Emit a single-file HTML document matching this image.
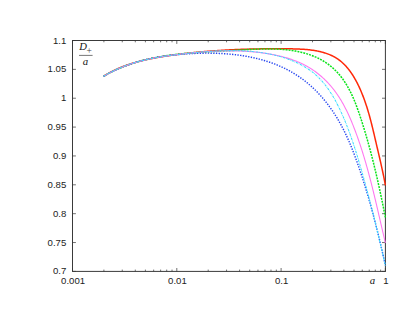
<!DOCTYPE html>
<html><head><meta charset="utf-8"><title>chart</title>
<style>html,body{margin:0;padding:0;background:#fff;overflow:hidden}svg{display:block}</style></head>
<body>
<svg width="415" height="323" viewBox="0 0 415 323">
<rect width="415" height="323" fill="#fff"/>
<rect x="72.5" y="40.5" width="312.9" height="230.89999999999998" fill="none" stroke="#3a3a3a" stroke-width="1"/>
<path d="M72.5,271.40h3.4 M385.4,271.40h-3.4 M72.5,242.54h3.4 M385.4,242.54h-3.4 M72.5,213.68h3.4 M385.4,213.68h-3.4 M72.5,184.81h3.4 M385.4,184.81h-3.4 M72.5,155.95h3.4 M385.4,155.95h-3.4 M72.5,127.09h3.4 M385.4,127.09h-3.4 M72.5,98.23h3.4 M385.4,98.23h-3.4 M72.5,69.36h3.4 M385.4,69.36h-3.4 M72.5,40.50h3.4 M385.4,40.50h-3.4 M72.50,271.4v-3.4 M72.50,40.5v3.4 M103.90,271.4v-1.8 M103.90,40.5v1.8 M122.26,271.4v-1.8 M122.26,40.5v1.8 M135.29,271.4v-1.8 M135.29,40.5v1.8 M145.40,271.4v-1.8 M145.40,40.5v1.8 M153.66,271.4v-1.8 M153.66,40.5v1.8 M160.64,271.4v-1.8 M160.64,40.5v1.8 M166.69,271.4v-1.8 M166.69,40.5v1.8 M172.03,271.4v-1.8 M172.03,40.5v1.8 M176.80,271.4v-3.4 M176.80,40.5v3.4 M208.20,271.4v-1.8 M208.20,40.5v1.8 M226.56,271.4v-1.8 M226.56,40.5v1.8 M239.59,271.4v-1.8 M239.59,40.5v1.8 M249.70,271.4v-1.8 M249.70,40.5v1.8 M257.96,271.4v-1.8 M257.96,40.5v1.8 M264.94,271.4v-1.8 M264.94,40.5v1.8 M270.99,271.4v-1.8 M270.99,40.5v1.8 M276.33,271.4v-1.8 M276.33,40.5v1.8 M281.10,271.4v-3.4 M281.10,40.5v3.4 M312.50,271.4v-1.8 M312.50,40.5v1.8 M330.86,271.4v-1.8 M330.86,40.5v1.8 M343.89,271.4v-1.8 M343.89,40.5v1.8 M354.00,271.4v-1.8 M354.00,40.5v1.8 M362.26,271.4v-1.8 M362.26,40.5v1.8 M369.24,271.4v-1.8 M369.24,40.5v1.8 M375.29,271.4v-1.8 M375.29,40.5v1.8 M380.63,271.4v-1.8 M380.63,40.5v1.8 M385.40,271.4v-3.4 M385.40,40.5v3.4" stroke="#333" stroke-width="0.7" fill="none"/>
<path d="M103.60,76.30 L104.24,75.89 L104.89,75.49 L105.53,75.09 L106.18,74.69 L106.83,74.31 L107.49,73.92 L108.14,73.55 L108.80,73.17 L109.47,72.81 L110.13,72.44 L110.80,72.09 L111.46,71.73 L112.14,71.39 L112.81,71.05 L113.48,70.71 L114.16,70.38 L114.84,70.05 L115.53,69.73 L116.21,69.41 L116.90,69.09 L117.58,68.79 L118.27,68.48 L118.97,68.18 L119.66,67.89 L120.36,67.59 L121.06,67.31 L121.76,67.03 L122.46,66.75 L123.16,66.47 L123.87,66.20 L124.58,65.94 L125.28,65.68 L126.00,65.42 L126.71,65.16 L127.42,64.91 L128.14,64.67 L128.85,64.43 L129.57,64.19 L130.29,63.95 L131.02,63.72 L131.74,63.49 L132.46,63.27 L133.19,63.05 L133.92,62.83 L134.64,62.62 L135.37,62.41 L136.10,62.20 L136.84,62.00 L137.57,61.80 L138.30,61.60 L139.04,61.41 L139.78,61.22 L140.51,61.03 L141.25,60.84 L141.99,60.66 L142.73,60.48 L143.47,60.30 L144.22,60.13 L144.96,59.96 L145.70,59.79 L146.45,59.63 L147.20,59.46 L147.94,59.30 L148.69,59.15 L149.44,58.99 L150.19,58.84 L150.93,58.69 L151.68,58.54 L152.43,58.39 L153.18,58.25 L153.94,58.11 L154.69,57.97 L155.44,57.83 L156.19,57.69 L156.94,57.56 L157.70,57.43 L158.45,57.30 L159.21,57.17 L159.96,57.04 L160.71,56.92 L161.47,56.80 L162.22,56.67 L162.98,56.55 L163.73,56.44 L164.49,56.32 L165.24,56.20 L165.99,56.09 L166.75,55.98 L167.50,55.87 L168.26,55.76 L169.01,55.65 L169.77,55.54 L170.52,55.43 L171.27,55.33 L172.03,55.22 L172.78,55.12 L173.53,55.02 L174.28,54.92 L175.04,54.81 L175.79,54.72 L176.54,54.62 L177.29,54.52 L178.04,54.42 L178.79,54.33 L179.54,54.23 L180.29,54.14 L181.05,54.04 L181.80,53.95 L182.55,53.86 L183.29,53.77 L184.04,53.68 L184.79,53.59 L185.54,53.51 L186.29,53.42 L187.04,53.33 L187.79,53.25 L188.54,53.17 L189.29,53.08 L190.04,53.00 L190.78,52.92 L191.53,52.84 L192.28,52.76 L193.03,52.68 L193.78,52.60 L194.52,52.53 L195.27,52.45 L196.02,52.38 L196.77,52.30 L197.51,52.23 L198.26,52.16 L199.01,52.09 L199.76,52.02 L200.50,51.95 L201.25,51.88 L202.00,51.81 L202.74,51.74 L203.49,51.68 L204.24,51.61 L204.99,51.55 L205.73,51.48 L206.48,51.42 L207.23,51.36 L207.97,51.30 L208.72,51.24 L209.47,51.18 L210.22,51.12 L210.96,51.06 L211.71,51.00 L212.46,50.95 L213.20,50.89 L213.95,50.84 L214.70,50.78 L215.45,50.73 L216.20,50.68 L216.94,50.63 L217.69,50.58 L218.44,50.53 L219.19,50.48 L219.94,50.43 L220.68,50.38 L221.43,50.33 L222.18,50.29 L222.93,50.24 L223.68,50.20 L224.43,50.15 L225.18,50.11 L225.93,50.07 L226.68,50.03 L227.43,49.99 L228.18,49.95 L228.93,49.91 L229.68,49.87 L230.43,49.83 L231.18,49.79 L231.93,49.76 L232.68,49.72 L233.43,49.69 L234.18,49.65 L234.94,49.62 L235.69,49.58 L236.44,49.55 L237.19,49.52 L237.95,49.49 L238.70,49.46 L239.45,49.43 L240.21,49.40 L240.96,49.37 L241.72,49.35 L242.47,49.32 L243.23,49.29 L243.98,49.27 L244.74,49.24 L245.49,49.22 L246.25,49.20 L247.01,49.17 L247.76,49.15 L248.52,49.13 L249.28,49.11 L250.04,49.09 L250.80,49.07 L251.55,49.05 L252.31,49.03 L253.07,49.01 L253.83,49.00 L254.59,48.98 L255.36,48.96 L256.12,48.95 L256.88,48.93 L257.64,48.92 L258.40,48.91 L259.17,48.89 L259.93,48.88 L260.69,48.87 L261.46,48.86 L262.22,48.85 L262.99,48.84 L263.75,48.83 L264.52,48.82 L265.29,48.81 L266.06,48.80 L266.82,48.80 L267.59,48.79 L268.36,48.78 L269.13,48.78 L269.90,48.77 L270.67,48.77 L271.44,48.76 L272.21,48.76 L272.98,48.76 L273.76,48.76 L274.53,48.75 L275.30,48.75 L276.08,48.75 L276.85,48.75 L277.63,48.75 L278.41,48.75 L279.18,48.76 L279.96,48.76 L280.74,48.76 L281.52,48.76 L282.30,48.77 L283.08,48.77 L283.86,48.77 L284.64,48.78 L285.42,48.79 L286.20,48.79 L286.99,48.80 L287.77,48.80 L288.55,48.81 L289.34,48.82 L290.12,48.83 L290.91,48.84 L291.69,48.86 L292.48,48.87 L293.26,48.89 L294.05,48.90 L294.83,48.92 L295.61,48.95 L296.40,48.97 L297.18,49.00 L297.96,49.03 L298.74,49.06 L299.52,49.09 L300.30,49.13 L301.08,49.17 L301.85,49.21 L302.63,49.26 L303.40,49.31 L304.18,49.36 L304.95,49.42 L305.72,49.48 L306.48,49.55 L307.25,49.62 L308.01,49.69 L308.78,49.77 L309.54,49.86 L310.29,49.95 L311.05,50.04 L311.80,50.14 L312.55,50.24 L313.30,50.35 L314.04,50.46 L314.78,50.58 L315.52,50.71 L316.26,50.84 L316.99,50.98 L317.72,51.12 L318.45,51.27 L319.17,51.42 L319.89,51.59 L320.61,51.76 L321.32,51.93 L322.03,52.11 L322.73,52.31 L323.44,52.50 L324.13,52.71 L324.83,52.92 L325.51,53.14 L326.20,53.37 L326.88,53.60 L327.55,53.85 L328.23,54.10 L328.89,54.36 L329.55,54.63 L330.21,54.91 L330.86,55.19 L331.51,55.49 L332.15,55.79 L332.79,56.11 L333.42,56.43 L334.04,56.76 L334.66,57.10 L335.28,57.45 L335.88,57.82 L336.49,58.19 L337.08,58.57 L337.67,58.96 L338.26,59.36 L338.84,59.78 L339.41,60.20 L339.98,60.64 L340.54,61.08 L341.09,61.54 L341.64,62.00 L342.18,62.47 L342.71,62.96 L343.24,63.45 L343.77,63.96 L344.28,64.47 L344.80,64.99 L345.30,65.52 L345.80,66.06 L346.30,66.61 L346.78,67.16 L347.27,67.72 L347.74,68.29 L348.22,68.87 L348.68,69.46 L349.14,70.05 L349.60,70.65 L350.05,71.26 L350.49,71.87 L350.93,72.49 L351.37,73.12 L351.79,73.75 L352.22,74.39 L352.64,75.03 L353.05,75.68 L353.46,76.34 L353.86,77.00 L354.26,77.67 L354.65,78.34 L355.04,79.01 L355.42,79.69 L355.80,80.37 L356.18,81.06 L356.55,81.75 L356.91,82.45 L357.27,83.15 L357.63,83.85 L357.98,84.56 L358.32,85.27 L358.67,85.98 L359.00,86.69 L359.34,87.41 L359.67,88.13 L359.99,88.85 L360.31,89.57 L360.63,90.30 L360.94,91.02 L361.25,91.75 L361.55,92.48 L361.85,93.21 L362.15,93.94 L362.44,94.67 L362.73,95.40 L363.01,96.13 L363.29,96.86 L363.57,97.60 L363.84,98.33 L364.11,99.06 L364.37,99.79 L364.64,100.52 L364.90,101.25 L365.15,101.98 L365.40,102.71 L365.65,103.44 L365.90,104.17 L366.14,104.90 L366.38,105.63 L366.61,106.35 L366.85,107.08 L367.08,107.81 L367.30,108.54 L367.53,109.27 L367.75,109.99 L367.97,110.72 L368.19,111.45 L368.40,112.17 L368.61,112.90 L368.82,113.63 L369.03,114.35 L369.24,115.08 L369.44,115.81 L369.64,116.53 L369.84,117.26 L370.04,117.99 L370.23,118.71 L370.42,119.44 L370.62,120.16 L370.81,120.89 L370.99,121.62 L371.18,122.34 L371.37,123.07 L371.55,123.79 L371.73,124.52 L371.91,125.24 L372.09,125.97 L372.27,126.70 L372.45,127.42 L372.63,128.15 L372.80,128.87 L372.98,129.60 L373.15,130.32 L373.32,131.05 L373.49,131.78 L373.67,132.50 L373.84,133.23 L374.01,133.95 L374.18,134.68 L374.35,135.41 L374.52,136.13 L374.69,136.86 L374.86,137.59 L375.02,138.31 L375.19,139.04 L375.36,139.77 L375.53,140.50 L375.70,141.22 L375.87,141.95 L376.04,142.68 L376.21,143.41 L376.38,144.14 L376.55,144.86 L376.72,145.59 L376.89,146.32 L377.06,147.05 L377.23,147.78 L377.41,148.51 L377.58,149.24 L377.75,149.97 L377.92,150.70 L378.09,151.43 L378.26,152.16 L378.44,152.89 L378.61,153.63 L378.78,154.36 L378.95,155.09 L379.12,155.82 L379.29,156.55 L379.46,157.29 L379.63,158.02 L379.80,158.75 L379.97,159.49 L380.14,160.22 L380.31,160.96 L380.47,161.69 L380.64,162.43 L380.81,163.16 L380.97,163.90 L381.14,164.63 L381.30,165.37 L381.47,166.11 L381.63,166.84 L381.79,167.58 L381.96,168.32 L382.12,169.06 L382.28,169.80 L382.44,170.53 L382.60,171.27 L382.75,172.01 L382.91,172.75 L383.07,173.49 L383.22,174.23 L383.38,174.98 L383.53,175.72 L383.68,176.46 L383.83,177.20 L383.98,177.95 L384.13,178.69 L384.27,179.43 L384.42,180.18 L384.56,180.92 L384.71,181.67 L384.85,182.41 L384.99,183.16 L385.13,183.91 L385.26,184.65 L385.40,185.40" fill="none" stroke="#ff2808" stroke-width="1.5"/>
<path d="M103.60,76.30 L104.28,75.89 L104.97,75.49 L105.66,75.10 L106.35,74.71 L107.05,74.32 L107.75,73.94 L108.45,73.56 L109.15,73.18 L109.85,72.82 L110.56,72.45 L111.27,72.09 L111.98,71.73 L112.69,71.38 L113.41,71.03 L114.12,70.69 L114.84,70.35 L115.56,70.02 L116.29,69.69 L117.01,69.36 L117.74,69.04 L118.47,68.72 L119.20,68.40 L119.93,68.09 L120.67,67.79 L121.40,67.48 L122.14,67.18 L122.88,66.89 L123.62,66.60 L124.36,66.31 L125.11,66.03 L125.86,65.75 L126.60,65.47 L127.35,65.20 L128.10,64.93 L128.86,64.67 L129.61,64.41 L130.37,64.15 L131.12,63.89 L131.88,63.64 L132.64,63.40 L133.40,63.15 L134.17,62.91 L134.93,62.68 L135.70,62.44 L136.46,62.21 L137.23,61.99 L138.00,61.77 L138.77,61.55 L139.54,61.33 L140.31,61.12 L141.08,60.91 L141.86,60.70 L142.63,60.50 L143.41,60.29 L144.19,60.10 L144.96,59.90 L145.74,59.71 L146.52,59.52 L147.30,59.34 L148.09,59.16 L148.87,58.98 L149.65,58.80 L150.43,58.63 L151.22,58.46 L152.00,58.29 L152.79,58.12 L153.57,57.96 L154.36,57.80 L155.15,57.64 L155.94,57.49 L156.72,57.34 L157.51,57.19 L158.30,57.04 L159.09,56.90 L159.88,56.76 L160.67,56.62 L161.46,56.48 L162.25,56.35 L163.04,56.22 L163.84,56.09 L164.63,55.96 L165.42,55.84 L166.21,55.72 L167.00,55.60 L167.79,55.48 L168.59,55.36 L169.38,55.25 L170.17,55.14 L170.96,55.03 L171.75,54.92 L172.55,54.82 L173.34,54.72 L174.13,54.62 L174.92,54.52 L175.71,54.42 L176.50,54.33 L177.29,54.24 L178.08,54.14 L178.87,54.06 L179.66,53.97 L180.45,53.88 L181.24,53.80 L182.03,53.72 L182.82,53.64 L183.61,53.56 L184.40,53.48 L185.19,53.41 L185.98,53.34 L186.76,53.26 L187.55,53.19 L188.34,53.12 L189.13,53.06 L189.91,52.99 L190.70,52.92 L191.49,52.86 L192.28,52.80 L193.06,52.74 L193.85,52.68 L194.64,52.62 L195.43,52.56 L196.21,52.50 L197.00,52.45 L197.79,52.39 L198.58,52.34 L199.36,52.29 L200.15,52.23 L200.94,52.18 L201.73,52.13 L202.51,52.08 L203.30,52.04 L204.09,51.99 L204.88,51.94 L205.67,51.89 L206.46,51.85 L207.24,51.80 L208.03,51.76 L208.82,51.71 L209.61,51.67 L210.40,51.63 L211.19,51.58 L211.98,51.54 L212.77,51.50 L213.57,51.46 L214.36,51.42 L215.15,51.37 L215.94,51.33 L216.73,51.29 L217.53,51.25 L218.32,51.21 L219.11,51.17 L219.91,51.13 L220.70,51.09 L221.50,51.05 L222.29,51.01 L223.09,50.97 L223.88,50.93 L224.68,50.88 L225.48,50.84 L226.28,50.80 L227.07,50.76 L227.87,50.72 L228.67,50.67 L229.47,50.63 L230.27,50.59 L231.08,50.54 L231.88,50.50 L232.68,50.45 L233.48,50.41 L234.29,50.36 L235.09,50.31 L235.90,50.27 L236.70,50.22 L237.51,50.17 L238.32,50.12 L239.12,50.08 L239.93,50.03 L240.74,49.98 L241.55,49.93 L242.36,49.88 L243.17,49.83 L243.98,49.79 L244.79,49.74 L245.60,49.69 L246.41,49.65 L247.22,49.60 L248.03,49.56 L248.84,49.52 L249.65,49.47 L250.47,49.43 L251.28,49.39 L252.09,49.35 L252.90,49.31 L253.72,49.28 L254.53,49.24 L255.34,49.21 L256.15,49.17 L256.97,49.14 L257.78,49.11 L258.59,49.09 L259.40,49.06 L260.22,49.04 L261.03,49.02 L261.84,49.00 L262.65,48.98 L263.46,48.96 L264.28,48.95 L265.09,48.94 L265.90,48.93 L266.71,48.93 L267.52,48.92 L268.33,48.92 L269.14,48.93 L269.95,48.93 L270.76,48.94 L271.56,48.95 L272.37,48.97 L273.18,48.98 L273.99,49.00 L274.79,49.03 L275.60,49.06 L276.40,49.09 L277.21,49.12 L278.01,49.16 L278.81,49.20 L279.62,49.25 L280.42,49.30 L281.22,49.35 L282.02,49.41 L282.82,49.47 L283.62,49.54 L284.41,49.61 L285.21,49.69 L286.01,49.77 L286.80,49.85 L287.60,49.94 L288.39,50.03 L289.18,50.13 L289.97,50.23 L290.76,50.34 L291.55,50.45 L292.34,50.57 L293.13,50.70 L293.91,50.82 L294.70,50.96 L295.48,51.10 L296.27,51.24 L297.05,51.39 L297.83,51.55 L298.61,51.71 L299.38,51.88 L300.16,52.05 L300.93,52.23 L301.71,52.41 L302.48,52.60 L303.25,52.80 L304.02,53.00 L304.78,53.21 L305.54,53.43 L306.31,53.65 L307.07,53.88 L307.82,54.12 L308.58,54.36 L309.33,54.61 L310.07,54.87 L310.82,55.13 L311.56,55.40 L312.30,55.68 L313.03,55.96 L313.77,56.25 L314.49,56.55 L315.22,56.86 L315.94,57.17 L316.65,57.49 L317.36,57.82 L318.07,58.16 L318.77,58.50 L319.47,58.85 L320.17,59.21 L320.86,59.58 L321.54,59.95 L322.22,60.34 L322.89,60.73 L323.56,61.13 L324.22,61.54 L324.88,61.95 L325.53,62.38 L326.18,62.81 L326.82,63.25 L327.46,63.70 L328.09,64.15 L328.71,64.61 L329.33,65.08 L329.94,65.56 L330.55,66.05 L331.15,66.54 L331.74,67.04 L332.33,67.55 L332.91,68.06 L333.49,68.58 L334.06,69.11 L334.62,69.64 L335.18,70.19 L335.73,70.73 L336.28,71.29 L336.82,71.85 L337.35,72.42 L337.87,72.99 L338.39,73.57 L338.91,74.16 L339.41,74.75 L339.91,75.35 L340.40,75.95 L340.89,76.56 L341.37,77.18 L341.84,77.80 L342.31,78.43 L342.77,79.06 L343.22,79.70 L343.67,80.34 L344.12,80.99 L344.55,81.64 L344.98,82.30 L345.41,82.96 L345.83,83.63 L346.24,84.30 L346.65,84.98 L347.06,85.66 L347.45,86.35 L347.85,87.03 L348.24,87.73 L348.62,88.43 L349.00,89.13 L349.37,89.83 L349.74,90.54 L350.10,91.26 L350.46,91.97 L350.82,92.69 L351.17,93.41 L351.52,94.14 L351.86,94.87 L352.20,95.60 L352.53,96.34 L352.86,97.07 L353.19,97.82 L353.51,98.56 L353.83,99.30 L354.14,100.05 L354.45,100.80 L354.76,101.56 L355.06,102.31 L355.37,103.07 L355.66,103.82 L355.96,104.59 L356.25,105.35 L356.54,106.11 L356.83,106.88 L357.11,107.64 L357.39,108.41 L357.67,109.18 L357.94,109.95 L358.22,110.72 L358.49,111.49 L358.76,112.26 L359.02,113.04 L359.29,113.81 L359.55,114.58 L359.81,115.36 L360.07,116.13 L360.32,116.91 L360.58,117.68 L360.83,118.46 L361.08,119.23 L361.33,120.01 L361.58,120.78 L361.83,121.56 L362.08,122.33 L362.32,123.10 L362.57,123.87 L362.81,124.65 L363.05,125.42 L363.29,126.19 L363.53,126.96 L363.77,127.73 L364.00,128.51 L364.24,129.28 L364.47,130.05 L364.70,130.82 L364.94,131.59 L365.17,132.36 L365.40,133.13 L365.62,133.89 L365.85,134.66 L366.08,135.43 L366.30,136.20 L366.52,136.97 L366.75,137.74 L366.97,138.51 L367.19,139.27 L367.41,140.04 L367.62,140.81 L367.84,141.58 L368.06,142.34 L368.27,143.11 L368.49,143.88 L368.70,144.65 L368.91,145.41 L369.12,146.18 L369.33,146.95 L369.54,147.71 L369.75,148.48 L369.95,149.25 L370.16,150.01 L370.36,150.78 L370.57,151.55 L370.77,152.31 L370.97,153.08 L371.17,153.84 L371.37,154.61 L371.57,155.38 L371.77,156.14 L371.97,156.91 L372.17,157.68 L372.36,158.44 L372.56,159.21 L372.75,159.98 L372.94,160.74 L373.13,161.51 L373.33,162.28 L373.52,163.04 L373.71,163.81 L373.90,164.58 L374.08,165.35 L374.27,166.11 L374.46,166.88 L374.64,167.65 L374.83,168.42 L375.01,169.19 L375.20,169.95 L375.38,170.72 L375.56,171.49 L375.75,172.26 L375.93,173.03 L376.11,173.80 L376.29,174.57 L376.47,175.34 L376.64,176.11 L376.82,176.88 L377.00,177.65 L377.17,178.42 L377.35,179.19 L377.53,179.96 L377.70,180.73 L377.87,181.51 L378.05,182.28 L378.22,183.05 L378.39,183.82 L378.56,184.60 L378.74,185.37 L378.91,186.15 L379.08,186.92 L379.25,187.69 L379.42,188.47 L379.58,189.25 L379.75,190.02 L379.92,190.80 L380.09,191.57 L380.25,192.35 L380.42,193.13 L380.59,193.91 L380.75,194.69 L380.92,195.47 L381.08,196.24 L381.24,197.02 L381.41,197.81 L381.57,198.59 L381.73,199.37 L381.90,200.15 L382.06,200.93 L382.22,201.72 L382.38,202.50 L382.54,203.28 L382.71,204.07 L382.87,204.85 L383.03,205.64 L383.19,206.43 L383.35,207.21 L383.51,208.00 L383.67,208.79 L383.82,209.58 L383.98,210.37 L384.14,211.16 L384.30,211.95 L384.46,212.74 L384.62,213.53 L384.77,214.32 L384.93,215.12 L385.09,215.91 L385.24,216.70 L385.40,217.50" fill="none" stroke="#08e418" stroke-width="1.5" stroke-dasharray="1.95,1.05"/>
<path d="M103.60,76.30 L104.35,75.86 L105.10,75.43 L105.85,75.01 L106.61,74.59 L107.36,74.18 L108.12,73.77 L108.87,73.37 L109.63,72.97 L110.39,72.58 L111.14,72.19 L111.90,71.81 L112.66,71.43 L113.42,71.06 L114.19,70.69 L114.95,70.33 L115.71,69.97 L116.48,69.62 L117.24,69.27 L118.01,68.93 L118.77,68.60 L119.54,68.26 L120.31,67.94 L121.08,67.61 L121.85,67.29 L122.62,66.98 L123.39,66.67 L124.16,66.37 L124.94,66.07 L125.71,65.77 L126.49,65.48 L127.26,65.20 L128.04,64.91 L128.82,64.64 L129.60,64.36 L130.37,64.09 L131.15,63.83 L131.94,63.57 L132.72,63.31 L133.50,63.06 L134.28,62.81 L135.07,62.57 L135.85,62.33 L136.64,62.09 L137.43,61.86 L138.22,61.63 L139.00,61.41 L139.79,61.19 L140.58,60.97 L141.38,60.76 L142.17,60.55 L142.96,60.35 L143.76,60.14 L144.55,59.95 L145.35,59.75 L146.14,59.56 L146.94,59.38 L147.74,59.19 L148.54,59.01 L149.34,58.84 L150.14,58.66 L150.94,58.49 L151.74,58.33 L152.55,58.16 L153.35,58.00 L154.16,57.85 L154.96,57.69 L155.77,57.54 L156.58,57.40 L157.39,57.25 L158.20,57.11 L159.01,56.97 L159.82,56.84 L160.63,56.71 L161.44,56.58 L162.26,56.45 L163.07,56.33 L163.89,56.21 L164.71,56.09 L165.52,55.97 L166.34,55.86 L167.16,55.75 L167.98,55.64 L168.81,55.54 L169.63,55.44 L170.45,55.34 L171.27,55.24 L172.10,55.15 L172.93,55.05 L173.75,54.96 L174.58,54.88 L175.41,54.79 L176.24,54.71 L177.07,54.63 L177.90,54.55 L178.73,54.47 L179.57,54.40 L180.40,54.33 L181.24,54.26 L182.07,54.19 L182.91,54.12 L183.75,54.06 L184.58,54.00 L185.42,53.93 L186.26,53.88 L187.11,53.82 L187.95,53.77 L188.79,53.71 L189.63,53.66 L190.48,53.62 L191.32,53.57 L192.17,53.53 L193.01,53.48 L193.86,53.44 L194.71,53.41 L195.56,53.37 L196.40,53.34 L197.25,53.31 L198.10,53.28 L198.95,53.26 L199.80,53.23 L200.65,53.21 L201.50,53.19 L202.36,53.18 L203.21,53.16 L204.06,53.15 L204.91,53.14 L205.76,53.14 L206.61,53.13 L207.47,53.13 L208.32,53.13 L209.17,53.14 L210.02,53.15 L210.88,53.16 L211.73,53.17 L212.58,53.18 L213.43,53.20 L214.29,53.22 L215.14,53.24 L215.99,53.27 L216.84,53.30 L217.69,53.33 L218.55,53.37 L219.40,53.41 L220.25,53.45 L221.10,53.49 L221.95,53.54 L222.80,53.59 L223.65,53.64 L224.50,53.70 L225.35,53.75 L226.19,53.82 L227.04,53.88 L227.89,53.95 L228.73,54.02 L229.58,54.10 L230.43,54.18 L231.27,54.26 L232.11,54.34 L232.96,54.43 L233.80,54.52 L234.64,54.62 L235.48,54.71 L236.32,54.82 L237.16,54.92 L238.00,55.03 L238.84,55.14 L239.67,55.26 L240.51,55.38 L241.34,55.50 L242.18,55.63 L243.01,55.75 L243.84,55.89 L244.67,56.03 L245.50,56.17 L246.33,56.31 L247.15,56.46 L247.98,56.61 L248.80,56.77 L249.62,56.93 L250.45,57.09 L251.27,57.26 L252.09,57.43 L252.90,57.60 L253.72,57.78 L254.53,57.97 L255.35,58.15 L256.16,58.34 L256.97,58.54 L257.78,58.74 L258.58,58.94 L259.39,59.15 L260.19,59.36 L260.99,59.57 L261.79,59.79 L262.59,60.02 L263.39,60.25 L264.18,60.48 L264.98,60.71 L265.77,60.95 L266.56,61.20 L267.34,61.45 L268.13,61.70 L268.91,61.96 L269.69,62.22 L270.47,62.49 L271.25,62.76 L272.02,63.04 L272.80,63.32 L273.57,63.60 L274.34,63.89 L275.10,64.19 L275.87,64.49 L276.63,64.79 L277.39,65.10 L278.15,65.41 L278.90,65.73 L279.66,66.05 L280.41,66.38 L281.15,66.71 L281.90,67.05 L282.64,67.39 L283.38,67.73 L284.12,68.09 L284.86,68.44 L285.59,68.80 L286.32,69.17 L287.05,69.54 L287.77,69.91 L288.49,70.30 L289.21,70.68 L289.93,71.07 L290.64,71.47 L291.35,71.87 L292.06,72.28 L292.77,72.69 L293.47,73.10 L294.17,73.53 L294.87,73.95 L295.56,74.39 L296.25,74.82 L296.94,75.27 L297.62,75.71 L298.30,76.17 L298.98,76.63 L299.66,77.09 L300.33,77.56 L301.00,78.04 L301.66,78.52 L302.32,79.00 L302.98,79.49 L303.64,79.99 L304.29,80.49 L304.94,81.00 L305.59,81.51 L306.23,82.03 L306.87,82.55 L307.50,83.07 L308.14,83.60 L308.77,84.14 L309.39,84.68 L310.01,85.22 L310.63,85.77 L311.25,86.33 L311.86,86.89 L312.47,87.45 L313.08,88.01 L313.68,88.59 L314.28,89.16 L314.87,89.74 L315.47,90.33 L316.05,90.91 L316.64,91.51 L317.22,92.10 L317.80,92.70 L318.37,93.31 L318.94,93.92 L319.51,94.53 L320.07,95.14 L320.63,95.76 L321.19,96.39 L321.74,97.01 L322.29,97.64 L322.84,98.28 L323.38,98.91 L323.92,99.55 L324.45,100.20 L324.98,100.85 L325.51,101.50 L326.04,102.15 L326.56,102.81 L327.07,103.47 L327.58,104.13 L328.09,104.80 L328.60,105.46 L329.10,106.14 L329.60,106.81 L330.09,107.49 L330.58,108.17 L331.07,108.85 L331.55,109.54 L332.03,110.22 L332.50,110.92 L332.97,111.61 L333.44,112.30 L333.90,113.00 L334.36,113.70 L334.82,114.41 L335.27,115.11 L335.72,115.82 L336.16,116.53 L336.60,117.24 L337.04,117.95 L337.47,118.67 L337.90,119.38 L338.32,120.10 L338.74,120.82 L339.16,121.55 L339.57,122.27 L339.98,123.00 L340.38,123.73 L340.78,124.46 L341.18,125.19 L341.58,125.92 L341.97,126.66 L342.36,127.39 L342.74,128.13 L343.12,128.87 L343.50,129.62 L343.87,130.36 L344.24,131.10 L344.61,131.85 L344.98,132.60 L345.34,133.35 L345.70,134.10 L346.05,134.85 L346.41,135.60 L346.76,136.36 L347.10,137.12 L347.45,137.87 L347.79,138.63 L348.13,139.39 L348.47,140.15 L348.80,140.92 L349.13,141.68 L349.46,142.45 L349.79,143.21 L350.11,143.98 L350.43,144.75 L350.75,145.52 L351.07,146.29 L351.38,147.06 L351.69,147.83 L352.00,148.60 L352.31,149.38 L352.62,150.15 L352.92,150.93 L353.22,151.71 L353.52,152.48 L353.82,153.26 L354.12,154.04 L354.41,154.82 L354.71,155.60 L355.00,156.38 L355.29,157.16 L355.57,157.95 L355.86,158.73 L356.14,159.51 L356.43,160.30 L356.71,161.08 L356.99,161.87 L357.27,162.65 L357.55,163.44 L357.82,164.23 L358.10,165.01 L358.37,165.80 L358.64,166.59 L358.92,167.38 L359.19,168.16 L359.45,168.95 L359.72,169.74 L359.99,170.53 L360.26,171.32 L360.52,172.11 L360.78,172.90 L361.05,173.69 L361.31,174.48 L361.57,175.28 L361.83,176.07 L362.09,176.86 L362.34,177.65 L362.60,178.44 L362.86,179.24 L363.11,180.03 L363.36,180.83 L363.61,181.62 L363.87,182.41 L364.12,183.21 L364.36,184.00 L364.61,184.80 L364.86,185.60 L365.11,186.39 L365.35,187.19 L365.59,187.98 L365.84,188.78 L366.08,189.58 L366.32,190.38 L366.56,191.17 L366.80,191.97 L367.04,192.77 L367.27,193.57 L367.51,194.37 L367.75,195.17 L367.98,195.97 L368.21,196.77 L368.45,197.57 L368.68,198.37 L368.91,199.17 L369.14,199.97 L369.37,200.77 L369.60,201.57 L369.82,202.37 L370.05,203.18 L370.28,203.98 L370.50,204.78 L370.72,205.58 L370.95,206.39 L371.17,207.19 L371.39,208.00 L371.61,208.80 L371.83,209.60 L372.05,210.41 L372.27,211.21 L372.49,212.02 L372.70,212.82 L372.92,213.63 L373.13,214.43 L373.35,215.24 L373.56,216.05 L373.77,216.85 L373.99,217.66 L374.20,218.47 L374.41,219.27 L374.62,220.08 L374.83,220.89 L375.04,221.70 L375.24,222.50 L375.45,223.31 L375.66,224.12 L375.86,224.93 L376.07,225.74 L376.27,226.55 L376.47,227.36 L376.68,228.17 L376.88,228.98 L377.08,229.79 L377.28,230.60 L377.48,231.41 L377.68,232.22 L377.88,233.03 L378.08,233.84 L378.28,234.65 L378.47,235.46 L378.67,236.27 L378.87,237.09 L379.06,237.90 L379.26,238.71 L379.45,239.52 L379.64,240.33 L379.84,241.15 L380.03,241.96 L380.22,242.77 L380.41,243.59 L380.60,244.40 L380.80,245.21 L380.99,246.03 L381.17,246.84 L381.36,247.65 L381.55,248.47 L381.74,249.28 L381.93,250.10 L382.11,250.91 L382.30,251.73 L382.49,252.54 L382.67,253.36 L382.86,254.17 L383.04,254.99 L383.22,255.80 L383.41,256.62 L383.59,257.43 L383.77,258.25 L383.96,259.07 L384.14,259.88 L384.32,260.70 L384.50,261.52 L384.68,262.33 L384.86,263.15 L385.04,263.97 L385.22,264.78 L385.40,265.60" fill="none" stroke="#2848f0" stroke-width="1.45" stroke-dasharray="1.35,1.35"/>
<path d="M103.60,76.30 L104.32,75.87 L105.04,75.45 L105.77,75.03 L106.50,74.62 L107.22,74.21 L107.95,73.81 L108.69,73.42 L109.42,73.03 L110.15,72.64 L110.89,72.26 L111.63,71.89 L112.37,71.52 L113.11,71.16 L113.85,70.80 L114.59,70.44 L115.34,70.09 L116.08,69.75 L116.83,69.41 L117.58,69.08 L118.33,68.75 L119.08,68.43 L119.84,68.11 L120.59,67.79 L121.35,67.48 L122.11,67.18 L122.86,66.87 L123.62,66.58 L124.38,66.29 L125.15,66.00 L125.91,65.71 L126.68,65.44 L127.44,65.16 L128.21,64.89 L128.98,64.62 L129.75,64.36 L130.52,64.10 L131.29,63.85 L132.06,63.60 L132.84,63.35 L133.61,63.11 L134.39,62.87 L135.17,62.64 L135.95,62.41 L136.73,62.18 L137.51,61.96 L138.29,61.74 L139.07,61.52 L139.86,61.31 L140.64,61.10 L141.43,60.89 L142.21,60.69 L143.00,60.49 L143.79,60.30 L144.58,60.10 L145.37,59.91 L146.16,59.73 L146.95,59.54 L147.75,59.36 L148.54,59.19 L149.33,59.01 L150.13,58.84 L150.93,58.67 L151.72,58.51 L152.52,58.35 L153.32,58.19 L154.12,58.03 L154.92,57.87 L155.72,57.72 L156.52,57.57 L157.32,57.43 L158.13,57.28 L158.93,57.14 L159.73,57.00 L160.54,56.86 L161.35,56.73 L162.15,56.59 L162.96,56.46 L163.77,56.33 L164.57,56.21 L165.38,56.08 L166.19,55.96 L167.00,55.84 L167.81,55.72 L168.62,55.60 L169.43,55.49 L170.24,55.38 L171.06,55.26 L171.87,55.15 L172.68,55.05 L173.49,54.94 L174.31,54.83 L175.12,54.73 L175.94,54.63 L176.75,54.53 L177.57,54.43 L178.38,54.33 L179.20,54.23 L180.02,54.14 L180.83,54.04 L181.65,53.95 L182.47,53.86 L183.28,53.77 L184.10,53.67 L184.92,53.59 L185.74,53.50 L186.55,53.41 L187.37,53.32 L188.19,53.24 L189.01,53.15 L189.83,53.07 L190.65,52.99 L191.47,52.91 L192.29,52.83 L193.11,52.75 L193.93,52.67 L194.75,52.60 L195.57,52.52 L196.39,52.45 L197.21,52.38 L198.03,52.31 L198.85,52.24 L199.67,52.17 L200.50,52.10 L201.32,52.04 L202.14,51.97 L202.96,51.91 L203.78,51.85 L204.61,51.79 L205.43,51.73 L206.25,51.68 L207.07,51.62 L207.90,51.57 L208.72,51.52 L209.54,51.47 L210.37,51.42 L211.19,51.38 L212.01,51.33 L212.84,51.29 L213.66,51.25 L214.48,51.21 L215.31,51.17 L216.13,51.14 L216.96,51.11 L217.78,51.08 L218.61,51.05 L219.43,51.02 L220.25,50.99 L221.08,50.97 L221.90,50.95 L222.73,50.93 L223.55,50.91 L224.38,50.90 L225.20,50.88 L226.03,50.87 L226.85,50.87 L227.68,50.86 L228.50,50.85 L229.33,50.85 L230.15,50.85 L230.98,50.86 L231.80,50.86 L232.63,50.87 L233.45,50.88 L234.28,50.89 L235.10,50.90 L235.93,50.92 L236.75,50.94 L237.58,50.96 L238.41,50.99 L239.23,51.01 L240.06,51.04 L240.88,51.07 L241.71,51.11 L242.53,51.15 L243.36,51.19 L244.18,51.23 L245.01,51.27 L245.83,51.32 L246.66,51.37 L247.48,51.43 L248.31,51.48 L249.13,51.54 L249.96,51.60 L250.78,51.67 L251.61,51.74 L252.43,51.81 L253.26,51.88 L254.08,51.96 L254.90,52.03 L255.73,52.12 L256.55,52.20 L257.38,52.29 L258.20,52.38 L259.03,52.48 L259.85,52.57 L260.67,52.68 L261.50,52.78 L262.32,52.89 L263.14,53.00 L263.97,53.11 L264.79,53.23 L265.61,53.35 L266.43,53.47 L267.26,53.60 L268.08,53.73 L268.90,53.87 L269.71,54.01 L270.53,54.15 L271.35,54.29 L272.17,54.44 L272.98,54.60 L273.80,54.76 L274.61,54.92 L275.42,55.09 L276.23,55.26 L277.04,55.43 L277.85,55.61 L278.65,55.79 L279.46,55.98 L280.26,56.17 L281.06,56.37 L281.86,56.57 L282.66,56.78 L283.45,56.99 L284.25,57.21 L285.04,57.43 L285.83,57.65 L286.61,57.88 L287.40,58.12 L288.18,58.36 L288.96,58.60 L289.74,58.85 L290.51,59.11 L291.28,59.37 L292.05,59.64 L292.82,59.91 L293.58,60.18 L294.35,60.47 L295.10,60.76 L295.86,61.05 L296.61,61.35 L297.36,61.65 L298.11,61.97 L298.85,62.28 L299.59,62.61 L300.32,62.93 L301.05,63.27 L301.78,63.61 L302.51,63.96 L303.23,64.31 L303.94,64.67 L304.66,65.04 L305.37,65.41 L306.07,65.79 L306.77,66.17 L307.47,66.56 L308.16,66.96 L308.85,67.37 L309.54,67.78 L310.22,68.19 L310.89,68.62 L311.57,69.05 L312.23,69.49 L312.90,69.93 L313.55,70.38 L314.21,70.84 L314.86,71.30 L315.50,71.77 L316.14,72.24 L316.78,72.72 L317.41,73.21 L318.04,73.70 L318.66,74.20 L319.28,74.70 L319.89,75.21 L320.50,75.73 L321.11,76.25 L321.71,76.77 L322.31,77.31 L322.90,77.84 L323.48,78.39 L324.07,78.93 L324.64,79.49 L325.22,80.05 L325.78,80.61 L326.35,81.18 L326.91,81.75 L327.46,82.33 L328.01,82.91 L328.55,83.50 L329.09,84.09 L329.63,84.69 L330.16,85.29 L330.69,85.90 L331.21,86.51 L331.72,87.13 L332.23,87.75 L332.74,88.38 L333.24,89.01 L333.74,89.64 L334.23,90.28 L334.72,90.92 L335.20,91.57 L335.68,92.22 L336.15,92.87 L336.62,93.53 L337.08,94.19 L337.54,94.86 L337.99,95.53 L338.44,96.20 L338.88,96.88 L339.32,97.56 L339.75,98.24 L340.18,98.93 L340.60,99.62 L341.02,100.31 L341.44,101.01 L341.85,101.71 L342.26,102.42 L342.66,103.12 L343.06,103.83 L343.45,104.55 L343.84,105.26 L344.23,105.98 L344.61,106.70 L344.99,107.42 L345.36,108.15 L345.73,108.88 L346.10,109.61 L346.47,110.34 L346.83,111.08 L347.18,111.81 L347.54,112.55 L347.89,113.29 L348.23,114.04 L348.58,114.78 L348.92,115.53 L349.26,116.28 L349.59,117.03 L349.92,117.78 L350.25,118.54 L350.58,119.29 L350.90,120.05 L351.22,120.81 L351.54,121.57 L351.85,122.33 L352.16,123.09 L352.47,123.85 L352.78,124.62 L353.09,125.38 L353.39,126.15 L353.69,126.92 L353.99,127.68 L354.29,128.45 L354.58,129.22 L354.88,129.99 L355.17,130.76 L355.46,131.53 L355.74,132.30 L356.03,133.07 L356.31,133.84 L356.60,134.62 L356.88,135.39 L357.15,136.16 L357.43,136.93 L357.71,137.71 L357.98,138.48 L358.25,139.26 L358.52,140.03 L358.79,140.81 L359.06,141.58 L359.32,142.36 L359.58,143.14 L359.85,143.92 L360.11,144.69 L360.36,145.47 L360.62,146.25 L360.88,147.03 L361.13,147.81 L361.38,148.59 L361.63,149.37 L361.88,150.15 L362.13,150.93 L362.38,151.71 L362.62,152.49 L362.87,153.27 L363.11,154.06 L363.35,154.84 L363.59,155.62 L363.83,156.40 L364.07,157.19 L364.30,157.97 L364.54,158.76 L364.77,159.54 L365.00,160.33 L365.23,161.11 L365.46,161.90 L365.69,162.68 L365.92,163.47 L366.14,164.26 L366.37,165.04 L366.59,165.83 L366.81,166.62 L367.03,167.41 L367.25,168.19 L367.47,168.98 L367.69,169.77 L367.91,170.56 L368.13,171.35 L368.34,172.14 L368.55,172.93 L368.77,173.72 L368.98,174.51 L369.19,175.30 L369.40,176.09 L369.61,176.88 L369.82,177.67 L370.03,178.46 L370.23,179.26 L370.44,180.05 L370.64,180.84 L370.85,181.63 L371.05,182.42 L371.25,183.22 L371.46,184.01 L371.66,184.80 L371.86,185.60 L372.06,186.39 L372.26,187.18 L372.45,187.98 L372.65,188.77 L372.85,189.57 L373.04,190.36 L373.24,191.16 L373.43,191.95 L373.63,192.75 L373.82,193.54 L374.02,194.34 L374.21,195.13 L374.40,195.93 L374.59,196.72 L374.78,197.52 L374.98,198.32 L375.17,199.11 L375.36,199.91 L375.54,200.71 L375.73,201.50 L375.92,202.30 L376.11,203.10 L376.30,203.89 L376.49,204.69 L376.67,205.49 L376.86,206.28 L377.05,207.08 L377.23,207.88 L377.42,208.68 L377.61,209.47 L377.79,210.27 L377.98,211.07 L378.16,211.87 L378.35,212.67 L378.53,213.46 L378.72,214.26 L378.90,215.06 L379.08,215.86 L379.27,216.66 L379.45,217.46 L379.64,218.25 L379.82,219.05 L380.01,219.85 L380.19,220.65 L380.37,221.45 L380.56,222.25 L380.74,223.04 L380.93,223.84 L381.11,224.64 L381.29,225.44 L381.48,226.24 L381.66,227.04 L381.85,227.83 L382.03,228.63 L382.22,229.43 L382.40,230.23 L382.59,231.03 L382.77,231.83 L382.96,232.63 L383.15,233.42 L383.33,234.22 L383.52,235.02 L383.70,235.82 L383.89,236.62 L384.08,237.41 L384.27,238.21 L384.46,239.01 L384.64,239.81 L384.83,240.61 L385.02,241.40 L385.21,242.20 L385.40,243.00" fill="none" stroke="#ff78f0" stroke-width="1.1"/>
<path d="M103.60,76.30 L104.36,75.84 L105.11,75.38 L105.87,74.93 L106.64,74.49 L107.40,74.06 L108.16,73.63 L108.93,73.21 L109.70,72.79 L110.46,72.38 L111.24,71.98 L112.01,71.59 L112.78,71.20 L113.55,70.81 L114.33,70.44 L115.11,70.06 L115.89,69.70 L116.67,69.34 L117.45,68.99 L118.23,68.64 L119.02,68.30 L119.80,67.96 L120.59,67.63 L121.38,67.30 L122.16,66.98 L122.96,66.67 L123.75,66.36 L124.54,66.06 L125.34,65.76 L126.13,65.47 L126.93,65.18 L127.73,64.90 L128.53,64.62 L129.33,64.34 L130.13,64.08 L130.93,63.81 L131.74,63.55 L132.54,63.30 L133.35,63.05 L134.15,62.80 L134.96,62.56 L135.77,62.33 L136.58,62.09 L137.40,61.87 L138.21,61.64 L139.02,61.42 L139.84,61.21 L140.66,60.99 L141.47,60.79 L142.29,60.58 L143.11,60.38 L143.93,60.19 L144.75,59.99 L145.57,59.80 L146.40,59.62 L147.22,59.44 L148.05,59.26 L148.87,59.08 L149.70,58.91 L150.53,58.74 L151.36,58.57 L152.19,58.41 L153.02,58.25 L153.85,58.09 L154.68,57.94 L155.52,57.79 L156.35,57.64 L157.19,57.49 L158.02,57.35 L158.86,57.21 L159.70,57.07 L160.53,56.93 L161.37,56.80 L162.21,56.67 L163.05,56.54 L163.90,56.41 L164.74,56.28 L165.58,56.16 L166.42,56.04 L167.27,55.92 L168.11,55.80 L168.96,55.69 L169.81,55.57 L170.65,55.46 L171.50,55.35 L172.35,55.24 L173.20,55.13 L174.05,55.02 L174.90,54.92 L175.75,54.81 L176.60,54.71 L177.45,54.61 L178.31,54.51 L179.16,54.41 L180.01,54.31 L180.87,54.21 L181.72,54.11 L182.58,54.01 L183.43,53.92 L184.29,53.82 L185.15,53.73 L186.00,53.63 L186.86,53.54 L187.72,53.44 L188.58,53.35 L189.44,53.26 L190.30,53.17 L191.16,53.08 L192.02,52.99 L192.88,52.90 L193.74,52.82 L194.60,52.73 L195.46,52.64 L196.32,52.56 L197.19,52.48 L198.05,52.40 L198.91,52.32 L199.77,52.24 L200.64,52.16 L201.50,52.08 L202.36,52.01 L203.23,51.94 L204.09,51.86 L204.96,51.79 L205.82,51.72 L206.69,51.66 L207.55,51.59 L208.42,51.53 L209.28,51.47 L210.15,51.41 L211.01,51.35 L211.88,51.29 L212.74,51.24 L213.61,51.19 L214.47,51.14 L215.34,51.09 L216.20,51.04 L217.07,51.00 L217.93,50.95 L218.80,50.91 L219.66,50.88 L220.53,50.84 L221.39,50.81 L222.26,50.78 L223.12,50.75 L223.99,50.72 L224.85,50.70 L225.72,50.68 L226.58,50.66 L227.44,50.65 L228.31,50.63 L229.17,50.62 L230.03,50.62 L230.90,50.61 L231.76,50.61 L232.62,50.61 L233.49,50.62 L234.35,50.62 L235.21,50.63 L236.07,50.65 L236.93,50.66 L237.79,50.68 L238.65,50.71 L239.51,50.73 L240.37,50.76 L241.23,50.79 L242.09,50.83 L242.95,50.87 L243.81,50.91 L244.66,50.96 L245.52,51.01 L246.38,51.06 L247.23,51.12 L248.09,51.18 L248.94,51.24 L249.80,51.31 L250.65,51.38 L251.51,51.45 L252.36,51.53 L253.21,51.62 L254.06,51.70 L254.91,51.79 L255.76,51.89 L256.61,51.99 L257.46,52.09 L258.31,52.20 L259.16,52.31 L260.01,52.42 L260.85,52.54 L261.70,52.67 L262.54,52.79 L263.39,52.93 L264.23,53.06 L265.07,53.21 L265.91,53.35 L266.75,53.50 L267.59,53.66 L268.43,53.82 L269.27,53.98 L270.11,54.15 L270.95,54.32 L271.78,54.50 L272.62,54.69 L273.45,54.88 L274.28,55.07 L275.12,55.27 L275.95,55.47 L276.78,55.68 L277.60,55.89 L278.43,56.11 L279.26,56.34 L280.08,56.56 L280.90,56.80 L281.72,57.04 L282.54,57.28 L283.36,57.54 L284.17,57.79 L284.98,58.05 L285.79,58.32 L286.60,58.60 L287.40,58.87 L288.20,59.16 L289.00,59.45 L289.80,59.75 L290.59,60.05 L291.38,60.36 L292.17,60.67 L292.95,61.00 L293.73,61.32 L294.51,61.66 L295.28,62.00 L296.05,62.34 L296.82,62.70 L297.58,63.06 L298.34,63.42 L299.09,63.79 L299.84,64.17 L300.59,64.56 L301.33,64.95 L302.07,65.35 L302.80,65.76 L303.53,66.17 L304.25,66.59 L304.97,67.02 L305.68,67.45 L306.39,67.89 L307.09,68.34 L307.79,68.79 L308.49,69.26 L309.17,69.73 L309.85,70.20 L310.53,70.69 L311.20,71.18 L311.86,71.68 L312.52,72.19 L313.17,72.70 L313.82,73.23 L314.46,73.76 L315.09,74.30 L315.72,74.84 L316.34,75.40 L316.95,75.96 L317.56,76.53 L318.16,77.11 L318.76,77.69 L319.35,78.28 L319.93,78.88 L320.50,79.49 L321.07,80.10 L321.64,80.72 L322.20,81.35 L322.75,81.98 L323.29,82.62 L323.83,83.27 L324.37,83.92 L324.90,84.58 L325.42,85.24 L325.94,85.91 L326.45,86.59 L326.96,87.27 L327.46,87.96 L327.96,88.65 L328.45,89.35 L328.93,90.05 L329.41,90.76 L329.89,91.47 L330.36,92.18 L330.83,92.91 L331.29,93.63 L331.75,94.36 L332.20,95.09 L332.64,95.83 L333.09,96.57 L333.52,97.32 L333.96,98.07 L334.39,98.82 L334.81,99.58 L335.23,100.33 L335.65,101.10 L336.06,101.86 L336.47,102.63 L336.88,103.40 L337.28,104.17 L337.67,104.95 L338.07,105.73 L338.46,106.51 L338.84,107.29 L339.22,108.07 L339.60,108.86 L339.98,109.64 L340.35,110.43 L340.72,111.22 L341.08,112.02 L341.44,112.81 L341.80,113.60 L342.16,114.40 L342.51,115.19 L342.86,115.99 L343.20,116.79 L343.55,117.58 L343.89,118.38 L344.23,119.18 L344.56,119.98 L344.89,120.78 L345.22,121.58 L345.55,122.38 L345.88,123.18 L346.20,123.98 L346.52,124.78 L346.83,125.58 L347.15,126.39 L347.46,127.19 L347.77,127.99 L348.08,128.80 L348.38,129.60 L348.68,130.41 L348.98,131.22 L349.28,132.02 L349.58,132.83 L349.87,133.64 L350.16,134.44 L350.45,135.25 L350.74,136.06 L351.03,136.87 L351.31,137.68 L351.59,138.49 L351.87,139.30 L352.15,140.11 L352.43,140.92 L352.70,141.73 L352.97,142.54 L353.24,143.35 L353.51,144.16 L353.78,144.98 L354.05,145.79 L354.31,146.60 L354.58,147.42 L354.84,148.23 L355.10,149.04 L355.36,149.86 L355.61,150.67 L355.87,151.49 L356.12,152.30 L356.38,153.12 L356.63,153.93 L356.88,154.75 L357.13,155.57 L357.38,156.38 L357.63,157.20 L357.87,158.02 L358.12,158.83 L358.36,159.65 L358.61,160.47 L358.85,161.29 L359.09,162.10 L359.33,162.92 L359.57,163.74 L359.81,164.56 L360.05,165.38 L360.29,166.20 L360.53,167.02 L360.77,167.83 L361.00,168.65 L361.24,169.47 L361.47,170.29 L361.71,171.11 L361.94,171.93 L362.17,172.75 L362.41,173.57 L362.64,174.39 L362.87,175.21 L363.10,176.04 L363.33,176.86 L363.56,177.68 L363.79,178.50 L364.02,179.32 L364.24,180.14 L364.47,180.96 L364.70,181.78 L364.92,182.61 L365.15,183.43 L365.37,184.25 L365.60,185.07 L365.82,185.90 L366.04,186.72 L366.27,187.54 L366.49,188.37 L366.71,189.19 L366.93,190.01 L367.15,190.84 L367.37,191.66 L367.59,192.48 L367.81,193.31 L368.03,194.13 L368.24,194.96 L368.46,195.78 L368.68,196.61 L368.89,197.43 L369.11,198.26 L369.32,199.08 L369.54,199.91 L369.75,200.73 L369.97,201.56 L370.18,202.38 L370.39,203.21 L370.61,204.03 L370.82,204.86 L371.03,205.69 L371.24,206.51 L371.45,207.34 L371.66,208.17 L371.87,208.99 L372.08,209.82 L372.29,210.65 L372.50,211.48 L372.71,212.30 L372.91,213.13 L373.12,213.96 L373.33,214.79 L373.53,215.62 L373.74,216.45 L373.95,217.27 L374.15,218.10 L374.36,218.93 L374.56,219.76 L374.77,220.59 L374.97,221.42 L375.17,222.25 L375.38,223.08 L375.58,223.91 L375.78,224.74 L375.98,225.57 L376.19,226.40 L376.39,227.23 L376.59,228.06 L376.79,228.89 L376.99,229.72 L377.19,230.55 L377.39,231.38 L377.59,232.22 L377.79,233.05 L377.99,233.88 L378.19,234.71 L378.39,235.54 L378.59,236.38 L378.78,237.21 L378.98,238.04 L379.18,238.87 L379.38,239.71 L379.57,240.54 L379.77,241.37 L379.97,242.21 L380.16,243.04 L380.36,243.87 L380.56,244.71 L380.75,245.54 L380.95,246.37 L381.14,247.21 L381.34,248.04 L381.53,248.88 L381.73,249.71 L381.92,250.55 L382.12,251.38 L382.31,252.22 L382.51,253.05 L382.70,253.89 L382.89,254.72 L383.09,255.56 L383.28,256.40 L383.47,257.23 L383.67,258.07 L383.86,258.90 L384.05,259.74 L384.25,260.58 L384.44,261.41 L384.63,262.25 L384.82,263.09 L385.02,263.93 L385.21,264.76 L385.40,265.60" fill="none" stroke="#38deff" stroke-width="1.05" stroke-dasharray="2.3,0.8,0.7,0.8"/>
<g font-family="Liberation Sans, sans-serif" font-size="9.6" fill="#222">
<text x="66.3" y="274.40" text-anchor="end">0.7</text>
<text x="66.3" y="245.54" text-anchor="end">0.75</text>
<text x="66.3" y="216.68" text-anchor="end">0.8</text>
<text x="66.3" y="187.81" text-anchor="end">0.85</text>
<text x="66.3" y="158.95" text-anchor="end">0.9</text>
<text x="66.3" y="130.09" text-anchor="end">0.95</text>
<text x="66.3" y="101.23" text-anchor="end">1</text>
<text x="66.3" y="72.36" text-anchor="end">1.05</text>
<text x="66.3" y="43.50" text-anchor="end">1.1</text>
<text x="73.10" y="284.3" text-anchor="middle">0.001</text>
<text x="177.40" y="284.3" text-anchor="middle">0.01</text>
<text x="281.70" y="284.3" text-anchor="middle">0.1</text>
<text x="386.00" y="284.3" text-anchor="middle">1</text>
</g>
<g font-family="Liberation Serif, serif" font-style="italic" fill="#111">
<text x="79.2" y="50.3" font-size="10.6">D</text>
<text x="82.8" y="64.9" font-size="10.8">a</text>
<text x="369.8" y="283.8" font-size="10.8">a</text>
</g>
<text x="86.6" y="54.0" font-family="Liberation Serif, serif" font-size="9.5" fill="#444">+</text>
<path d="M79,55.4H92.6" stroke="#555" stroke-width="0.8"/>
</svg>
</body></html>
